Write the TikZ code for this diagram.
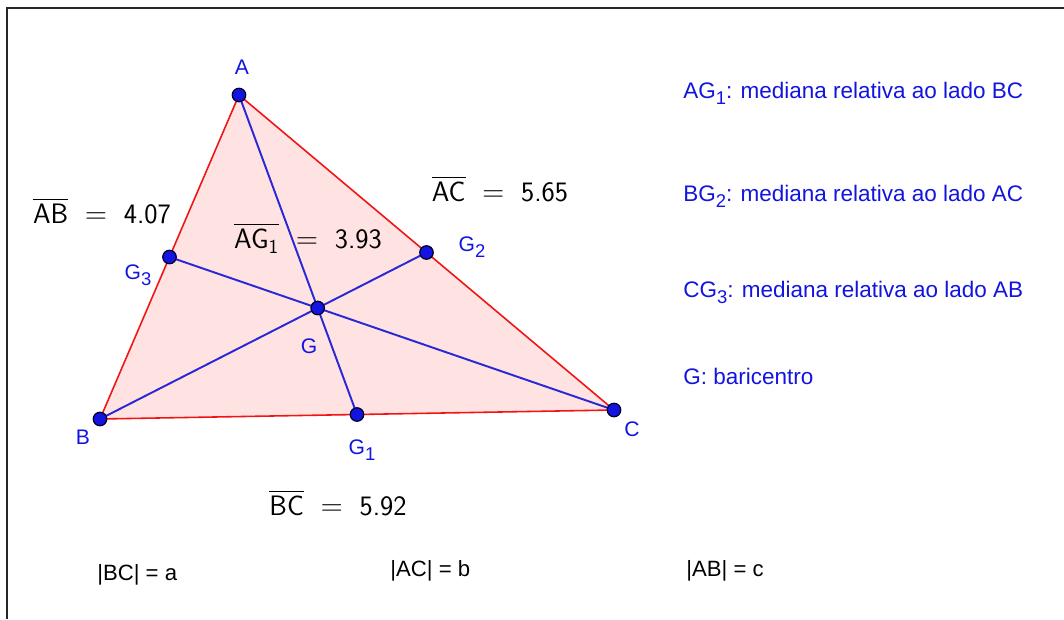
\documentclass[tikz,border=0pt]{standalone}
\usepackage{amsmath}
\usepackage{fontspec}
\newfontfamily\arialfont{Liberation Sans}
\usetikzlibrary{calc}
\definecolor{ggblue}{RGB}{20,20,225}
\definecolor{ggred}{RGB}{240,20,20}
\definecolor{ggfill}{RGB}{255,226,226}
\definecolor{ggline}{RGB}{40,40,215}
\newcommand{\lowidx}[1]{\raisebox{-0.55ex}{\fontsize{10.5}{11}\selectfont #1}}

\begin{document}
\begin{tikzpicture}[x=0.02cm,y=-0.02cm,
  ptdot/.style={circle,fill=ggblue,draw=black!85!blue,line width=0.7pt,inner sep=0pt,minimum size=0.27cm},
  ptlbl/.style={text=ggblue,font=\arialfont\fontsize{12}{14}\selectfont,inner sep=0pt},
  measure/.style={font=\fontsize{16}{19}\selectfont,inner sep=0pt},
  note/.style={text=ggblue,font=\arialfont\fontsize{12.8}{15}\selectfont,inner sep=0pt,anchor=base west},
  eqn/.style={font=\arialfont\fontsize{12.6}{14}\selectfont,inner sep=0pt,anchor=west}]
\useasboundingbox (0,0) rectangle (1064,619);
\fill[white] (0,0) rectangle (1064,619);
\draw[line width=1.2pt,black!85] (7,619) -- (7,8) -- (1064,8);
% vertices, midpoints, centroid
\coordinate (A) at (239,95);
\coordinate (B) at (100,419);
\coordinate (C) at (614,410);
\coordinate (G1) at ($(B)!0.5!(C)$);
\coordinate (G2) at ($(A)!0.5!(C)$);
\coordinate (G3) at ($(A)!0.5!(B)$);
\coordinate (G) at ($(A)!2/3!(G1)$);
\filldraw[fill=ggfill,draw=ggred,line width=0.9pt] (A) -- (B) -- (C) -- cycle;
\draw[ggline,line width=1.1pt] (A) -- (G1) (B) -- (G2) (C) -- (G3);
\node[ptdot] (dA) at (A) {};
\node[ptdot] (dB) at (B) {};
\node[ptdot] (dC) at (C) {};
\node[ptdot] (dG1) at (G1) {};
\node[ptdot] (dG2) at (G2) {};
\node[ptdot] (dG3) at (G3) {};
\node[ptdot] (dG) at (G) {};
% point labels
\node[ptlbl] (lA) at (242,67) {A};
\node[ptlbl] (lB) at (83,437) {B};
\node[ptlbl] (lC) at (632,429) {C};
\node[ptlbl] (lG) at (309,346) {G};
\node[ptlbl] (lG1) at (362,450) {G\lowidx{1}};
\node[ptlbl] (lG2) at (472,247) {G\lowidx{2}};
\node[ptlbl] (lG3) at (138,275) {G\lowidx{3}};
% lengths
\node[measure] (mAB) at (102,211) {$\overline{\textsf{AB}}\;=\;\textsf{4.07}$};
\node[measure] (mAG) at (308,238) {$\overline{\textsf{AG}_{\textsf{1}}}\;=\;\textsf{3.93}$};
\node[measure] (mAC) at (500,189) {$\overline{\textsf{AC}}\;=\;\textsf{5.65}$};
\node[measure] (mBC) at (338,503) {$\overline{\textsf{BC}}\;=\;\textsf{5.92}$};
% notes
\node[note] (n1) at (683,98) {AG\lowidx{1}: mediana relativa ao lado BC};
\node[note] (n2) at (683,201) {BG\lowidx{2}: mediana relativa ao lado AC};
\node[note] (n3) at (683,297) {CG\lowidx{3}: mediana relativa ao lado AB};
\node[note] (n4) at (683,384) {G: baricentro};
\node[eqn] (eBC) at (97,575) {|BC| = a};
\node[eqn] (eAC) at (390,571) {|AC| = b};
\node[eqn] (eAB) at (686,571) {|AB| = c};
\end{tikzpicture}
\end{document}
